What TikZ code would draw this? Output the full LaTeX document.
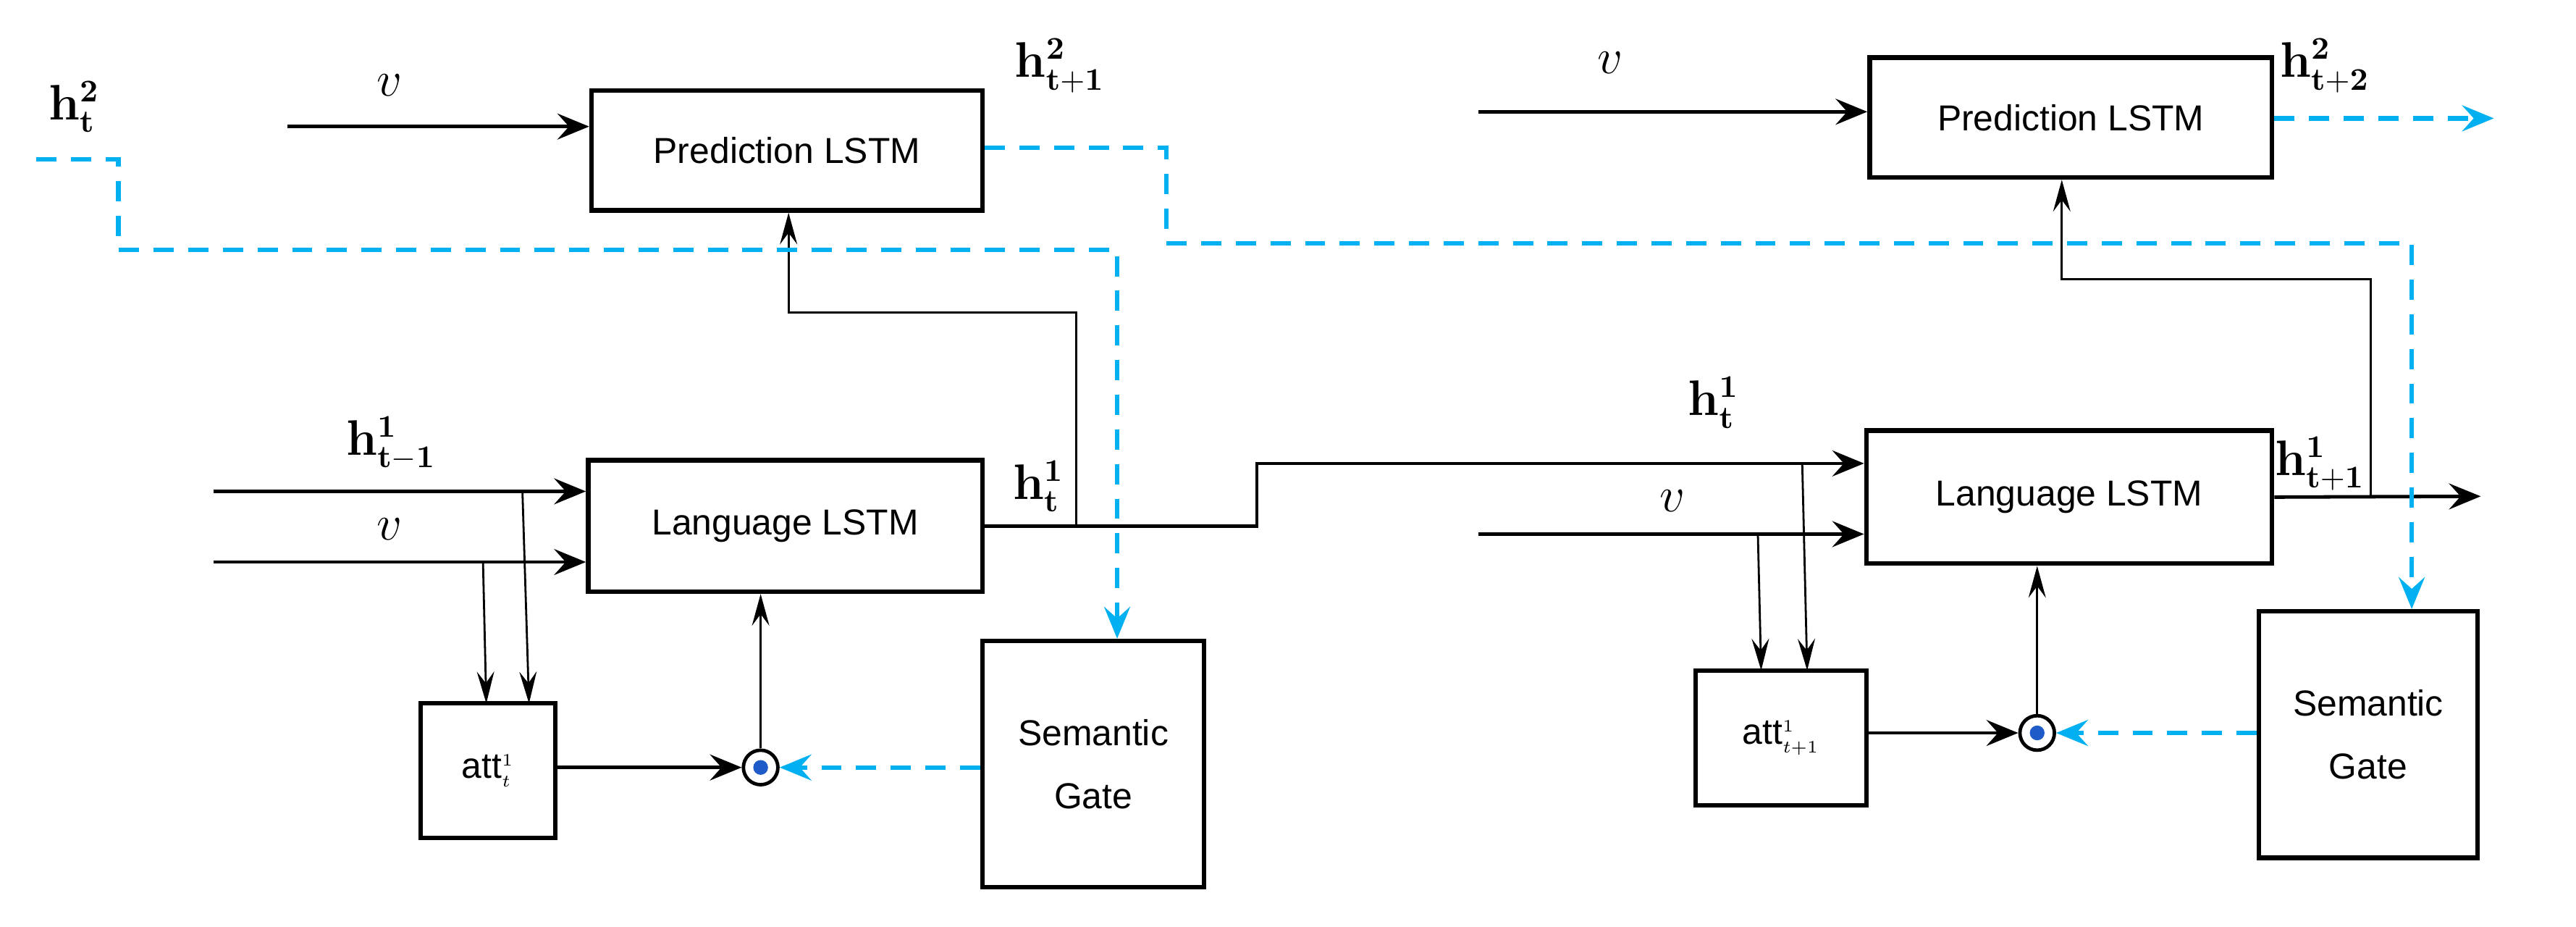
\documentclass[tikz,border=0pt]{standalone}
\usepackage{amsmath}
\usepackage[no-math]{fontspec}
\setmainfont{Liberation Sans}
\usetikzlibrary{arrows.meta,calc}
\definecolor{sky}{RGB}{0,176,240}
\definecolor{dotblue}{RGB}{30,90,200}
\begin{document}
\begin{tikzpicture}[x=0.02cm,y=-0.02cm,
  box/.style={draw,line width=1.6pt,align=center,font=\fontsize{12.5}{22}\selectfont,inner sep=0pt},
  arr/.style={line width=1.2pt,-{Stealth[length=11pt,width=9pt,inset=4pt]}},
  tarr/.style={line width=0.7pt,-{Stealth[length=11pt,width=6pt,inset=4pt]}},
  blu/.style={draw=sky,line width=1.6pt,dash pattern=on 7pt off 5pt},
  barr/.style={blu,-{Stealth[length=11pt,width=9pt,inset=4pt]}},
  lab/.style={font=\fontsize{16}{18}\selectfont},
  od/.style={circle,draw,line width=1.2pt,minimum size=0.42cm,inner sep=0pt,path picture={\fill[dotblue] (path picture bounding box.center) circle (0.09cm);}}]
\useasboundingbox (0,0) rectangle (1568,564);
% boxes
\node[box,minimum width=4.76cm,minimum height=1.46cm] (P1) at (479,91.5) {Prediction LSTM};
\node[box,minimum width=4.9cm,minimum height=1.46cm] (P2) at (1260.5,71.5) {Prediction LSTM};
\node[box,minimum width=4.8cm,minimum height=1.6cm] (L1) at (478,320) {Language LSTM};
\node[box,minimum width=4.94cm,minimum height=1.62cm] (L2) at (1259.5,302.5) {Language LSTM};
\node[box,minimum width=1.64cm,minimum height=1.64cm] (A1) at (297,469) {att$^{\scriptscriptstyle 1}_{\scriptscriptstyle t}$};
\node[box,minimum width=2.08cm,minimum height=1.64cm] (A2) at (1084,449) {att$^{\scriptscriptstyle 1}_{\scriptscriptstyle t+1}$};
\node[box,minimum width=2.7cm,minimum height=3cm] (S1) at (665.5,465) {Semantic\\Gate};
\node[box,minimum width=2.66cm,minimum height=3cm] (S2) at (1441.5,447) {Semantic\\Gate};
\node[od] (O1) at (463,467) {};
\node[od] (O2) at (1240,446) {};
% labels
\node[lab] (lv1) at (237,52) {$v$};
\node[lab] (lv2) at (980,38) {$v$};
\node[lab] (lh2t) at (45,65) {$\mathbf{h}^{\mathbf 2}_{\mathbf t}$};
\node[lab] (lh2t1) at (645,40) {$\mathbf{h}^{\mathbf 2}_{\mathbf{t+1}}$};
\node[lab] (lh2t2) at (1415,40) {$\mathbf{h}^{\mathbf 2}_{\mathbf{t+2}}$};
\node[lab] (lh1tm) at (238,270) {$\mathbf{h}^{\mathbf 1}_{\mathbf{t-1}}$};
\node[lab] (lv3) at (237,322) {$v$};
\node[lab] (lh1t) at (632,296) {$\mathbf{h}^{\mathbf 1}_{\mathbf t}$};
\node[lab] (lh1tb) at (1043,245) {$\mathbf{h}^{\mathbf 1}_{\mathbf t}$};
\node[lab] (lv4) at (1018,305) {$v$};
\node[lab] (lh1t1) at (1412,282) {$\mathbf{h}^{\mathbf 1}_{\mathbf{t+1}}$};
% coordinates
\coordinate (i1) at (175,77);
\coordinate (i2) at (900,68);
\coordinate (i3) at (130,299);
\coordinate (i4) at (130,342);
\coordinate (i5) at (900,325);
\coordinate (s0) at (22,97);
\coordinate (e1) at (1518,72);
\coordinate (e2) at (1510,302);
% black arrows
\draw[arr] (i1) -- (P1.west|-i1);
\draw[arr] (i2) -- (P2.west|-i2);
\draw[arr] (i3) -- (L1.west|-i3);
\draw[arr] (i4) -- (L1.west|-i4);
\draw[tarr] (318,299) -- (322,428);
\draw[tarr] (294,342) -- (296,428);
\draw[arr] (A1.east|-O1) -- (O1.west);
\draw[tarr] (O1.north) -- (L1.south-|O1);
\draw[arr] (L1.east) -- (765,320) -- (765,282) -- (L2.west|-0,282);
\draw[tarr] (655,320) -- (655,190) -- (480,190) -- (P1.south-|480,0);
\draw[arr] (i5) -- (L2.west|-i5);
\draw[tarr] (1097,282) -- (1100,408);
\draw[tarr] (1070,325) -- (1072,408);
\draw[arr] (A2.east|-O2) -- (O2.west);
\draw[tarr] (O2.north) -- (L2.south-|O2);
\draw[arr] (L2.east) -- (e2);
\draw[tarr] (1443,302) -- (1443,170) -- (1255,170) -- (P2.south-|1255,0);
% blue dashed
\draw[barr] (s0) -- (72,97) -- (72,152) -- (680,152) -- (S1.north-|680,0);
\draw[barr] (P1.east|-0,90) -- (710,90) -- (710,148) -- (1468,148) -- (S2.north-|1468,0);
\draw[barr] (P2.east|-e1) -- (e1);
\draw[barr] (S1.west|-O1) -- (O1.east);
\draw[barr] (S2.west|-O2) -- (O2.east);
\end{tikzpicture}
\end{document}
